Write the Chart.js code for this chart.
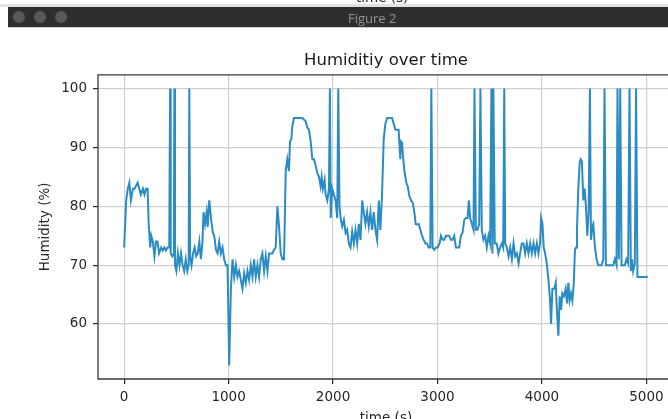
<!DOCTYPE html>
<html>
<head>
<meta charset="utf-8">
<script src="https://cdn.jsdelivr.net/npm/chart.js@4.4.0/dist/chart.umd.min.js"></script>
<style>
  html, body { margin: 0; padding: 0; background: #fff; overflow: hidden; width: 668px; height: 419px; }
  #wrap { position: relative; width: 668px; height: 419px; overflow: hidden; }
  #myChart { position: absolute; left: 0; top: 0; }
  .cut { position: absolute; top: -11px; left: 356px; font: 13.5px "DejaVu Sans"; color: #222; }
  .band { position: absolute; left: 0; top: 4px; width: 668px; height: 3px; background: #e2e2e2; }
  .bar { position: absolute; left: 8px; top: 7px; width: 660px; height: 20px; background: #2e2e30; border-bottom: 1px solid #cfcfcf; }
  .dot { position: absolute; top: 4px; width: 12px; height: 12px; border-radius: 50%; background: #58585a; }
  .figname { position: absolute; top: 2px; left: 340px; font: 13px "Open Sans", "DejaVu Sans"; color: #959595; }
</style>
</head>
<body>
<div id="wrap">
  <canvas id="myChart" width="690" height="440"></canvas>
  <div class="band"></div>
  <div class="cut">time (s)</div>
  <div class="bar">
    <div class="dot" style="left:5px"></div>
    <div class="dot" style="left:26px"></div>
    <div class="dot" style="left:47px"></div>
    <div class="figname">Figure 2</div>
  </div>
</div>
<script>
"use strict";

let chartTitle = 'Humiditiy over time';
let xTicks = [0, 1000, 2000, 3000, 4000, 5000];
let yTicks = [60, 70, 80, 90, 100];

// time (s) and humidity (%)
let times = [0, 20, 35, 50, 65, 85, 100, 130, 145, 160, 180, 195, 210, 225, 235, 250, 260, 275, 290, 305,
    320, 335, 355, 370, 385, 400, 415, 432, 440, 446, 462, 476, 481, 487, 500, 515, 530, 545, 560, 575,
    590, 605, 618, 624, 632, 645, 660, 675, 690, 705, 720, 735, 750, 760, 775, 790, 800, 815, 835, 850,
    863, 879, 895, 910, 926, 942, 958, 974, 990, 1006, 1022, 1038, 1054, 1070, 1085, 1101, 1117, 1133, 1149, 1165,
    1181, 1197, 1213, 1229, 1244, 1260, 1276, 1292, 1308, 1324, 1340, 1356, 1372, 1388, 1403, 1419, 1435, 1451, 1467, 1483,
    1499, 1515, 1531, 1547, 1562, 1578, 1588, 1601, 1610, 1626, 1658, 1705, 1737, 1754, 1770, 1786, 1802, 1818, 1833, 1849,
    1865, 1881, 1891, 1903, 1919, 1929, 1945, 1961, 1970, 1978, 1992, 2008, 2024, 2040, 2050, 2062, 2075, 2088, 2104, 2120,
    2135, 2151, 2167, 2183, 2199, 2215, 2231, 2247, 2263, 2279, 2294, 2310, 2326, 2342, 2358, 2374, 2390, 2406, 2422, 2438,
    2453, 2469, 2485, 2501, 2517, 2565, 2581, 2597, 2628, 2644, 2652, 2661, 2670, 2683, 2702, 2715, 2731, 2747, 2763, 2779,
    2791, 2804, 2820, 2836, 2852, 2868, 2884, 2900, 2915, 2931, 2941, 2953, 2969, 2985, 3001, 3020, 3033, 3049, 3065, 3081,
    3097, 3112, 3128, 3144, 3160, 3176, 3192, 3208, 3224, 3240, 3256, 3272, 3288, 3300, 3313, 3329, 3345, 3354, 3367, 3383,
    3399, 3411, 3424, 3440, 3456, 3472, 3488, 3504, 3516, 3526, 3535, 3548, 3567, 3583, 3599, 3617, 3629, 3639, 3648, 3664,
    3680, 3696, 3712, 3728, 3744, 3760, 3776, 3791, 3807, 3823, 3839, 3855, 3871, 3887, 3903, 3919, 3935, 3951, 3967, 3982,
    3992, 4005, 4017, 4030, 4046, 4062, 4078, 4087, 4100, 4119, 4132, 4141, 4157, 4170, 4183, 4195, 4211, 4227, 4240, 4253,
    4265, 4278, 4291, 4303, 4316, 4326, 4335, 4348, 4361, 4370, 4382, 4396, 4409, 4421, 4434, 4447, 4459, 4469, 4482, 4491,
    4507, 4523, 4539, 4571, 4587, 4599, 4612, 4650, 4682, 4698, 4714, 4723, 4736, 4749, 4762, 4793, 4809, 4825, 4838, 4851,
    4863, 4873, 4889, 4901, 4914, 4952, 5013];
let humidity = [73, 81, 83, 84, 81, 83, 83, 84, 83, 82, 83, 82, 83, 83, 77, 73, 75, 74, 71.5, 74,
    74, 72, 73, 72.5, 73, 72.5, 73, 73, 100, 72, 71.5, 72, 100, 70, 69, 72, 70, 72, 70, 69,
    71, 69, 70, 100, 71.5, 70, 72, 73, 71.5, 72, 74, 71, 74, 79, 77, 79, 76.5, 81, 77.5, 75.5,
    75, 72.6, 72, 74, 72, 73, 71, 70, 70, 53, 66, 71, 68, 70, 68, 69, 67.5, 66, 68.6, 67,
    69, 67.5, 70, 68, 71, 68, 70, 68, 71, 72, 69, 71.5, 69, 72, 72, 72, 72.6, 73, 80, 76.6,
    72, 71, 71, 86, 88, 86, 91, 91.4, 93.6, 95, 95, 95, 94.5, 93.4, 93, 91, 88, 88, 87, 85.7,
    85, 83.4, 85, 83, 84.5, 82, 81, 83, 100, 78, 83, 82, 81, 78, 100, 80, 77.7, 76.6, 77.7, 75.5,
    76, 73.7, 73, 75.7, 73.7, 76, 73.7, 77, 74.3, 81, 79, 77, 79, 76.6, 79, 76, 79, 76, 74.3, 81,
    76, 82, 91.4, 94, 95, 95, 94, 93, 93, 88, 91, 90.8, 88.5, 86, 84, 83.4, 81.7, 81, 80.6, 78.9,
    77, 76.9, 77, 76, 75, 74.3, 73.7, 73.7, 73, 73, 100, 73, 72.6, 73, 73, 73.7, 75, 74.3, 74.3, 75,
    75, 75, 74.3, 74.3, 75, 73, 73, 73, 75, 75.5, 77.7, 78, 78, 81, 78, 77, 76, 100, 76, 76,
    77, 100, 76, 74.3, 75, 73, 75, 73.7, 100, 72, 100, 73.7, 73.7, 72, 73, 73.7, 73, 100, 73.7, 73,
    71.5, 73, 71, 73.7, 71.5, 72, 70.3, 72, 73.7, 73.7, 72, 73.7, 72, 73.7, 72, 73.7, 72, 73.7, 72, 73.7,
    78, 77, 73, 72, 70.3, 67.5, 64, 60, 66, 66, 67, 63, 58, 64.7, 62.4, 65.2, 64.7, 66, 63.5, 67,
    64, 65.2, 64, 66.4, 72.6, 73, 76, 83, 87.4, 88, 87.7, 81, 83, 80, 75, 79, 100, 74.3, 76.6, 77,
    73, 71, 70, 70, 71, 100, 70, 70, 70, 71, 70, 100, 71, 100, 70, 70, 71, 70.3, 100, 69,
    71, 69, 70.3, 100, 68, 68, 68];

let points = times.map((t, i) => ({ x: t, y: humidity[i] }));

let tickFont = { family: 'DejaVu Sans', size: 13.5 };
let inkColor = '#262626';
let gridColor = '#cfcfcf';

// draws the spines like matplotlib (the right one falls outside the window)
let framePlugin = {
    id: 'frame',
    afterDatasetsDraw(chart) {
        let a = chart.chartArea;
        let ctx = chart.ctx;
        ctx.save();
        ctx.strokeStyle = '#3a3a3a';
        ctx.lineWidth = 1.3;
        ctx.beginPath();
        ctx.moveTo(a.right, a.top);
        ctx.lineTo(a.left, a.top);
        ctx.lineTo(a.left, a.bottom);
        ctx.lineTo(a.right, a.bottom);
        ctx.stroke();
        ctx.restore();
    }
};

let myChart = new Chart(document.getElementById('myChart').getContext('2d'), {
    type: 'line',
    data: {
        datasets: [{
            label: 'Humidity',
            data: points,
            borderColor: '#2b8bc3',
            borderWidth: 2,
            pointRadius: 0,
            tension: 0,
            fill: false
        }]
    },
    options: {
        responsive: false,
        animation: false,
        layout: { padding: { top: 40, left: 37, right: 16, bottom: 0 } },
        plugins: {
            legend: { display: false },
            tooltip: { enabled: false },
            title: {
                display: true,
                text: chartTitle,
                fullSize: false,
                color: '#1a1a1a',
                font: { family: 'DejaVu Sans', size: 16.5, weight: 'normal' },
                padding: { top: 11, bottom: 4 }
            }
        },
        scales: {
            x: {
                type: 'linear',
                min: -250,
                max: 5264,
                afterBuildTicks: s => { s.ticks = xTicks.map(v => ({ value: v })); },
                afterFit: s => { s.height = 61; },
                grid: { color: gridColor, lineWidth: 1.2, tickLength: 5, tickColor: inkColor, tickWidth: 1.2 },
                border: { display: false },
                ticks: { font: tickFont, color: inkColor, padding: 5, maxRotation: 0, autoSkip: false, callback: v => String(v) },
                title: { display: true, text: 'time (s)', font: tickFont, color: inkColor, padding: { top: 0, bottom: 13 } }
            },
            y: {
                min: 50.65,
                max: 102.35,
                afterBuildTicks: s => { s.ticks = yTicks.map(v => ({ value: v })); },
                afterFit: s => { s.width = 61; },
                grid: { color: gridColor, lineWidth: 1.2, tickLength: 5, tickColor: inkColor, tickWidth: 1.2 },
                border: { display: false },
                ticks: { font: tickFont, color: inkColor, padding: 6 },
                title: { display: true, text: 'Humidity (%)', font: tickFont, color: inkColor, padding: { top: 0, bottom: 0 } }
            }
        }
    },
    plugins: [framePlugin]
});
</script>
</body>
</html>
